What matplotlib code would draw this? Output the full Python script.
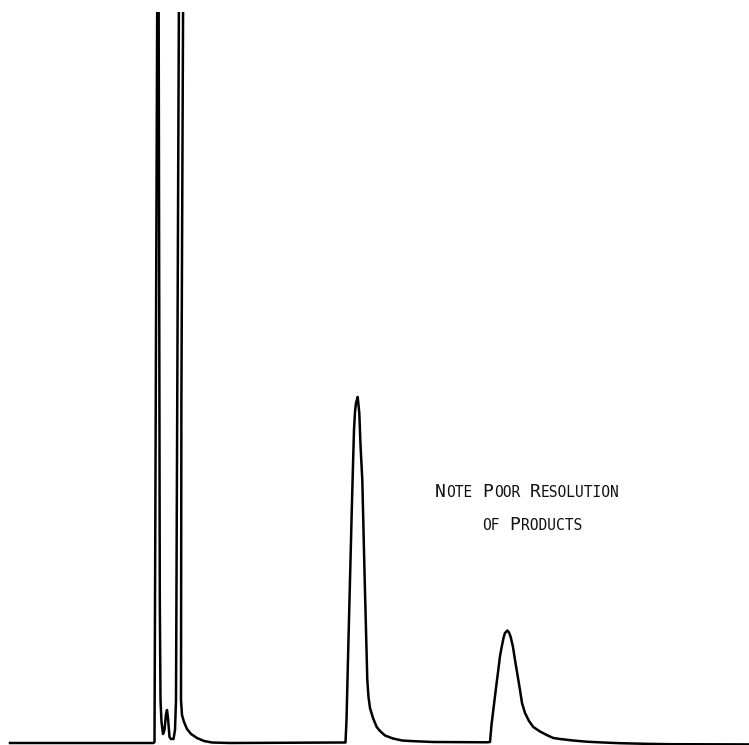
import matplotlib.pyplot as plt

# chromatogram trace (time in chart units, response in chart units)
# values above the top of the chart (765) are off-scale peaks
time = [10, 153.5, 154.5, 157.3, 158.6, 159.3, 159.8, 160.5, 161.5, 163, 164.5, 166, 167,
        168, 169.5, 171, 173.5, 175, 176, 179.0, 183.2, 181.4, 181, 182, 184, 187, 191,
        197, 204, 212, 230, 344,
        345.5, 346.5, 348.3, 350, 351.7, 353, 354, 355, 356, 357.7, 359.3, 360.5, 362.3,
        363.5, 364.7, 366, 367.3, 368.5, 370, 373, 376.7, 380, 385, 393, 402, 410, 433,
        487, 490,
        491.5, 493.3, 496, 498.3, 500, 501.7, 503.5, 505, 507.3, 509, 510.7, 513, 515,
        517.5, 520, 522, 525, 529, 533.3, 540, 546.7, 553.3, 560, 573, 586.7, 603, 620,
        645, 670, 749]
response = [2, 2, 3, 765, 765, 412, 145, 45, 23, 11, 15, 31, 35,
            27, 8, 6, 6, 15, 45, 765, 765, 345, 45, 30, 23, 16, 11,
            7, 4, 2.5, 2, 2.5,
            2.5, 25, 98, 165, 232, 280, 315, 333, 342, 348, 332, 300, 265,
            215, 165, 115, 65, 48, 37, 27, 18, 14, 9.5, 6.5, 4.5, 4, 3,
            2.7, 3,
            20, 35, 57, 75, 89, 98, 107, 112, 114.5, 112.5, 108, 98, 85,
            70, 55, 42, 32, 24, 18, 13.5, 10, 7, 6, 4.5, 3.3, 2.5, 1.8,
            1.2, 0.8, 0.6]

# note lines, drawn in small caps: big initial + small rest of each word
note_lines = [["NOTE", "POOR", "RESOLUTION"], ["of", "PRODUCTS"]]

fig = plt.figure(figsize=(7.49, 7.45), dpi=100)
ax = fig.add_axes([0, 0, 1, 733 / 745])
ax.set_xlim(0, 749)
ax.set_ylim(0, 733)
ax.axis("off")

ax.plot(time, response, color="black", lw=1.8, solid_joinstyle="round")

big, small = 13.0, 10.5
adv = lambda size: size * 100 / 72 * 0.602  # monospace advance in pixels (= data units)

for words, x0, ybase in [(note_lines[0], 435, 248), (note_lines[1], 482, 215)]:
    x = x0
    for word in words:
        if word[0].isupper():
            head, rest = word[0], word[1:]
        else:
            head, rest = "", word.upper()
        if head:
            ax.text(x, ybase, head, ha="left", va="baseline", fontsize=big,
                    family="DejaVu Sans Mono", color="#111111")
            x += adv(big) + 0.5
        ax.text(x, ybase, rest, ha="left", va="baseline", fontsize=small,
                family="DejaVu Sans Mono", color="#111111")
        x += adv(small) * len(rest) + adv(small) * 1.1

fig.savefig("out.png", dpi=100)
